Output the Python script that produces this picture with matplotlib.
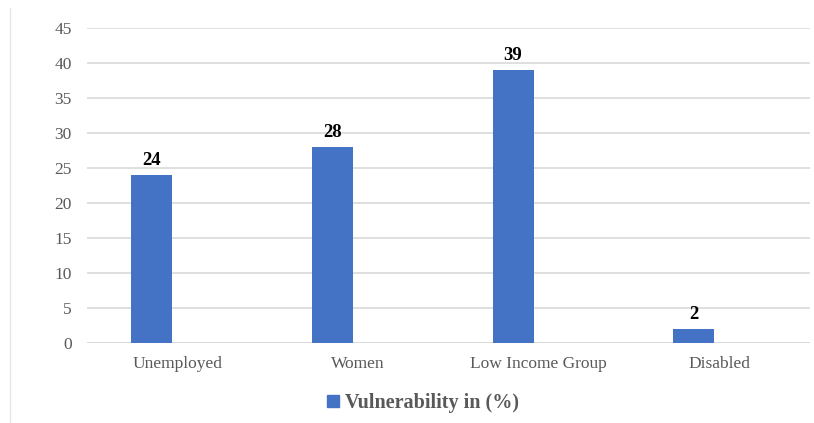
import matplotlib.pyplot as plt
from matplotlib.patches import Rectangle
from matplotlib.lines import Line2D
import numpy as np

categories = ['Unemployed', 'Women', 'Low Income Group', 'Disabled']
vulnerability = [24, 28, 39, 2]
series_name = 'Vulnerability in (%)'

plt.rcParams['font.family'] = 'serif'
plt.rcParams['font.serif'] = ['Liberation Serif', 'Times New Roman', 'DejaVu Serif']

bar_color = '#4472C4'
grid_color = '#d9d9d9'
text_color = '#595959'

fig = plt.figure(figsize=(8.14, 4.23), dpi=100)
ax = fig.add_axes([87 / 814, 80 / 423, 723 / 814, 315 / 423])

x = np.arange(len(categories))
offset = -0.143
width = 0.227
bars = ax.bar(x + offset, vulnerability, width=width, color=bar_color, zorder=3)

for rect, v in zip(bars, vulnerability):
    ax.text(rect.get_x() + rect.get_width() / 2, v + 0.8, str(v),
            ha='center', va='bottom', fontsize=13.5, fontweight='bold', color='black')

ax.set_xlim(-0.5, len(categories) - 0.5)
ax.set_ylim(0, 45)
ax.set_yticks(range(0, 46, 5))
ax.set_xticks(x)
ax.set_xticklabels(categories)
ax.yaxis.grid(True, color=grid_color, linewidth=1.2, zorder=0)
ax.tick_params(axis='both', length=0, labelsize=12.5, colors=text_color)
ax.tick_params(axis='x', pad=9)
ax.tick_params(axis='y', pad=11)
for s in ax.spines.values():
    s.set_visible(False)
ax.axhline(0, color=grid_color, linewidth=1.2, zorder=2)

# legend below the axes
handle = Rectangle((0, 0), 1, 1, color=bar_color)
fig.legend([handle], [series_name], loc='center', bbox_to_anchor=(423 / 814, 1 - 403 / 423),
           frameon=False, handlelength=0.6, handleheight=0.6, handletextpad=0.3,
           prop={'weight': 'bold', 'size': 14.5}, labelcolor=text_color)

# thin frame line on the left edge
fig.add_artist(Line2D([10 / 814, 10 / 814], [0, 1 - 8 / 423], color='#e6e6e6',
                      linewidth=1, transform=fig.transFigure))

fig.savefig('out.png', dpi=100)
